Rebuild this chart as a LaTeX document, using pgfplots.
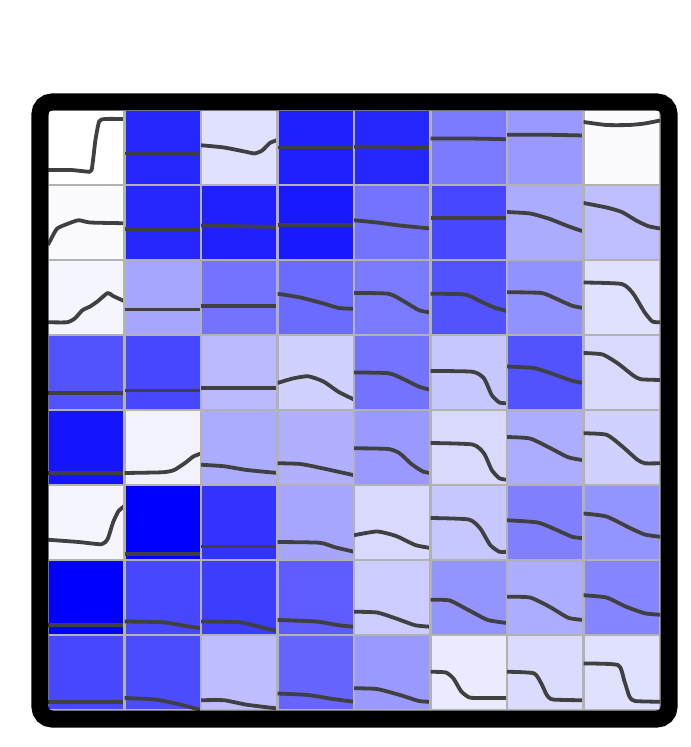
\documentclass[border=0pt]{standalone}
\usepackage{pgfplots}
\pgfplotsset{compat=1.18}
\usepgfplotslibrary{groupplots}
\usetikzlibrary{calc}
\tikzset{curve/.style={draw=black!75, line width=1.9pt, no marks, smooth, tension=0.35, line join=round}}
\newcommand{\cell}[2]{\nextgroupplot[axis background/.style={fill=blue!#1!white}]
  \addplot[curve] coordinates {#2};}
\begin{document}
\begin{tikzpicture}
\begin{groupplot}[
  group style={group size=8 by 8, horizontal sep=0pt, vertical sep=0pt, group name=group},
  width=38.25pt, height=37.5pt, scale only axis,
  xmin=0, xmax=1, ymin=0, ymax=1, ticks=none,
  axis line style={draw=gray!60, line width=1.1pt},
  clip=true]
% Row 1
\cell{0}{(0,0.2)(0.3,0.2)(0.5,0.18)(0.57,0.2)(0.62,0.6)(0.67,0.85)(0.75,0.88)(1,0.88)}
\cell{85}{(0,0.42)(0.5,0.42)(1,0.42)}
\cell{12}{(0,0.53)(0.3,0.5)(0.6,0.44)(0.7,0.42)(0.8,0.46)(0.9,0.56)(1,0.6)}
\cell{88}{(0,0.5)(0.5,0.5)(1,0.5)}
\cell{85}{(0,0.51)(0.5,0.51)(1,0.5)}
\cell{52}{(0,0.62)(0.5,0.62)(1,0.61)}
\cell{40}{(0,0.67)(0.5,0.67)(1,0.66)}
\cell{2}{(0,0.84)(0.3,0.8)(0.6,0.8)(0.8,0.82)(1,0.86)}
% Row 2
\cell{2}{(0,0.2)(0.05,0.3)(0.12,0.42)(0.25,0.48)(0.4,0.53)(0.55,0.5)(1,0.49)}
\cell{85}{(0,0.41)(0.5,0.41)(1,0.41)}
\cell{88}{(0,0.46)(0.5,0.45)(1,0.44)}
\cell{90}{(0,0.47)(0.5,0.47)(1,0.47)}
\cell{55}{(0,0.53)(0.3,0.5)(0.6,0.46)(1,0.42)}
\cell{72}{(0,0.56)(0.5,0.56)(1,0.56)}
\cell{33}{(0,0.64)(0.3,0.62)(0.55,0.55)(0.8,0.45)(1,0.38)}
\cell{25}{(0,0.76)(0.3,0.7)(0.5,0.64)(0.7,0.52)(0.85,0.45)(1,0.42)}
% Row 3
\cell{4}{(0,0.17)(0.25,0.17)(0.35,0.22)(0.45,0.33)(0.55,0.38)(0.65,0.45)(0.78,0.56)(0.85,0.52)(1,0.45)}
\cell{35}{(0,0.34)(0.5,0.34)(1,0.34)}
\cell{55}{(0,0.39)(0.5,0.39)(1,0.39)}
\cell{58}{(0,0.55)(0.3,0.5)(0.6,0.42)(0.8,0.36)(1,0.35)}
\cell{52}{(0,0.56)(0.45,0.55)(0.65,0.45)(0.85,0.33)(1,0.3)}
\cell{68}{(0,0.55)(0.45,0.54)(0.65,0.45)(0.85,0.36)(1,0.32)}
\cell{43}{(0,0.57)(0.45,0.56)(0.65,0.48)(0.85,0.39)(1,0.36)}
\cell{12}{(0,0.7)(0.5,0.68)(0.65,0.55)(0.8,0.3)(0.9,0.18)(1,0.17)}
% Row 4
\cell{68}{(0,0.23)(0.5,0.23)(1,0.23)}
\cell{72}{(0,0.26)(0.5,0.26)(1,0.26)}
\cell{27}{(0,0.29)(0.5,0.29)(1,0.29)}
\cell{18}{(0,0.36)(0.2,0.42)(0.4,0.45)(0.6,0.38)(0.8,0.24)(1,0.14)}
\cell{55}{(0,0.5)(0.45,0.49)(0.65,0.41)(0.85,0.31)(1,0.27)}
\cell{22}{(0,0.52)(0.55,0.51)(0.7,0.42)(0.8,0.2)(0.9,0.1)(1,0.09)}
\cell{68}{(0,0.58)(0.35,0.56)(0.6,0.48)(0.85,0.39)(1,0.36)}
\cell{15}{(0,0.76)(0.25,0.74)(0.45,0.62)(0.65,0.46)(0.75,0.41)(1,0.4)}
% Row 5
\cell{92}{(0,0.16)(0.5,0.16)(1,0.16)}
\cell{5}{(0,0.16)(0.5,0.17)(0.65,0.2)(0.8,0.3)(0.9,0.38)(1,0.42)}
\cell{33}{(0,0.27)(0.3,0.25)(0.6,0.2)(1,0.16)}
\cell{31}{(0,0.29)(0.3,0.28)(0.6,0.22)(1,0.13)}
\cell{40}{(0,0.49)(0.45,0.48)(0.6,0.42)(0.75,0.28)(0.9,0.18)(1,0.16)}
\cell{15}{(0,0.56)(0.55,0.54)(0.7,0.42)(0.8,0.2)(0.9,0.09)(1,0.07)}
\cell{32}{(0,0.64)(0.3,0.62)(0.55,0.5)(0.8,0.37)(1,0.33)}
\cell{18}{(0,0.69)(0.3,0.67)(0.5,0.52)(0.7,0.34)(0.8,0.29)(1,0.29)}
% Row 6
\cell{4}{(0,0.27)(0.4,0.24)(0.7,0.21)(0.78,0.28)(0.85,0.5)(0.92,0.65)(1,0.72)}
\cell{100}{(0,0.08)(0.5,0.08)(1,0.08)}
\cell{80}{(0,0.18)(0.5,0.18)(1,0.18)}
\cell{35}{(0,0.24)(0.55,0.23)(0.75,0.17)(1,0.11)}
\cell{15}{(0,0.33)(0.3,0.38)(0.55,0.32)(0.8,0.2)(1,0.16)}
\cell{22}{(0,0.56)(0.5,0.54)(0.65,0.42)(0.78,0.2)(0.9,0.11)(1,0.11)}
\cell{50}{(0,0.53)(0.4,0.5)(0.65,0.4)(0.85,0.31)(1,0.29)}
\cell{42}{(0,0.62)(0.3,0.58)(0.6,0.43)(0.8,0.34)(1,0.31)}
% Row 7
\cell{100}{(0,0.13)(0.5,0.13)(1,0.13)}
\cell{72}{(0,0.18)(0.5,0.17)(0.8,0.12)(1,0.09)}
\cell{76}{(0,0.18)(0.5,0.17)(0.8,0.1)(1,0.05)}
\cell{64}{(0,0.2)(0.5,0.18)(0.8,0.13)(1,0.11)}
\cell{20}{(0,0.31)(0.3,0.3)(0.55,0.22)(0.8,0.13)(1,0.11)}
\cell{42}{(0,0.47)(0.25,0.46)(0.5,0.33)(0.75,0.2)(1,0.16)}
\cell{32}{(0,0.51)(0.3,0.5)(0.55,0.38)(0.8,0.23)(1,0.2)}
\cell{48}{(0,0.53)(0.3,0.5)(0.55,0.38)(0.8,0.29)(1,0.27)}
% Row 8
\cell{72}{(0,0.11)(0.5,0.11)(1,0.11)}
\cell{70}{(0,0.16)(0.4,0.14)(0.7,0.08)(1,0.0)}
\cell{26}{(0,0.13)(0.3,0.13)(0.6,0.07)(1,0.02)}
\cell{60}{(0,0.22)(0.4,0.2)(0.7,0.15)(1,0.11)}
\cell{40}{(0,0.29)(0.3,0.28)(0.6,0.2)(0.85,0.12)(1,0.11)}
\cell{8}{(0,0.51)(0.2,0.5)(0.3,0.42)(0.4,0.25)(0.5,0.17)(0.6,0.16)(1,0.16)}
\cell{14}{(0,0.51)(0.35,0.49)(0.45,0.35)(0.52,0.2)(0.6,0.14)(1,0.13)}
\cell{12}{(0,0.62)(0.45,0.6)(0.53,0.4)(0.6,0.18)(0.67,0.12)(1,0.11)}
\end{groupplot}
\draw[line width=8.5pt, black, rounded corners=6pt]
  ($(group c1r1.north west)+(-4pt,4pt)$) rectangle ($(group c8r8.south east)+(4.5pt,-4.5pt)$);
\path ($(group c1r1.north west)+(-24pt,55pt)$) rectangle ($(group c8r8.south east)+(15pt,-18.5pt)$);
\end{tikzpicture}
\end{document}
